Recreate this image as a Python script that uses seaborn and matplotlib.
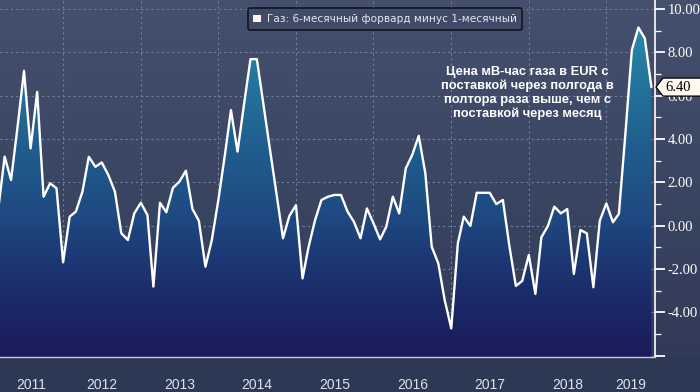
import numpy as np
import pandas as pd
import matplotlib
matplotlib.use("Agg")
import matplotlib.pyplot as plt
import matplotlib.dates as mdates
from matplotlib.colors import LinearSegmentedColormap
from matplotlib.patches import Patch, Rectangle, Polygon
from matplotlib.ticker import MultipleLocator, FuncFormatter, FixedLocator, NullFormatter
import seaborn as sns

# monthly data, Mar 2011 .. Aug 2019
months = pd.date_range("2011-03-01", "2019-08-01", freq="MS")
spread = [
    0.70, 3.19, 2.11, 4.60, 7.15, 3.57, 6.18, 1.34, 1.96, 1.73,          # 2011
    -1.69, 0.42, 0.65, 1.57, 3.18, 2.72, 2.92, 2.34, 1.57, -0.35, -0.66, 0.57,  # 2012
    1.06, 0.49, -2.81, 1.06, 0.62, 1.75, 2.03, 2.54, 0.77, 0.23, -1.89, -0.66,  # 2013
    1.20, 3.30, 5.34, 3.42, 5.56, 7.69, 7.69, 5.60, 3.50, 1.50, -0.58, 0.45,    # 2014
    0.95, -2.43, -1.00, 0.26, 1.19, 1.34, 1.42, 1.42, 0.65, 0.18, -0.58, 0.80,  # 2015
    0.11, -0.63, -0.05, 1.34, 0.57, 2.65, 3.26, 4.15, 2.42, -0.97, -1.74, -3.43,  # 2016
    -4.74, -0.81, 0.42, -0.01, 1.52, 1.52, 1.52, 1.00, 1.19, -0.90, -2.78, -2.55,  # 2017
    -1.35, -3.15, -0.54, -0.01, 0.88, 0.57, 0.77, -2.23, -0.20, -0.35, -2.84, 0.23,  # 2018
    1.03, 0.16, 0.55, 4.30, 8.11, 9.15, 8.65, 6.40,                          # 2019
]
years = list(range(2011, 2020))
y_ticks = [-6, -4, -2, 0, 2, 4, 6, 8, 10]
legend_label = "Газ: 6-месячный форвард минус 1-месячный"
note = ("Цена мВ-час газа в EUR с\nпоставкой через полгода в\n"
        "полтора раза выше, чем с\nпоставкой через месяц")

df = pd.DataFrame({"date": months, "value": spread})

sns.set_theme(style="dark")
plt.rcParams["font.family"] = ["DejaVu Sans"]

W, H = 700, 392
fig = plt.figure(figsize=(7, 3.92), dpi=100)
fig.patch.set_facecolor("#3a4561")

# background gradient + bottom year bar
bg = fig.add_axes([0, 0, 1, 1], zorder=-5)
bg_cmap = LinearSegmentedColormap.from_list("bg", ["#2f3957", "#3a4562", "#44506d"])
bg.imshow(np.linspace(0, 1, 256).reshape(-1, 1), cmap=bg_cmap, origin="lower",
          aspect="auto", extent=[0, 1, 0, 1])
bg.add_patch(Rectangle((0, 0), 1, 35 / H, color="#2d3855", transform=bg.transAxes))
bg.set_xlim(0, 1)
bg.set_ylim(0, 1)
bg.axis("off")

ax = fig.add_axes([0, 1 - 357 / H, 655 / W, 357 / H])
ax.set_facecolor("none")

x0 = pd.Timestamp("2011-03-10")
x1 = pd.Timestamp("2019-08-18")
ylo, yhi = -6.06, 10.42

# gradient area below the line
xn = mdates.date2num(df["date"])
poly = ax.fill_between(xn, df["value"], ylo, facecolor="none", edgecolor="none")
fill_cmap = LinearSegmentedColormap.from_list(
    "fill", ["#1a1b5a", "#1c2e6c", "#1e4a82", "#205f8f", "#24789f", "#2a92b2"])
img = ax.imshow(np.linspace(0, 1, 256).reshape(-1, 1), cmap=fill_cmap, origin="lower",
                aspect="auto", extent=[xn[0], xn[-1], ylo, yhi], zorder=1)
img.set_clip_path(poly.get_paths()[0], transform=ax.transData)

sns.lineplot(data=df, x="date", y="value", ax=ax, color="white", lw=1.7,
             legend=False, zorder=3)

ax.set_xlim(x0, x1)
ax.set_ylim(ylo, yhi)
ax.set_xlabel("")
ax.set_ylabel("")

# grid
for v in y_ticks:
    ax.axhline(v, color="#7484a4", lw=0.75, ls=(0, (2, 3)), zorder=0.5)
for yr in years[1:]:
    ax.axvline(pd.Timestamp(f"{yr}-01-01"), color="#7484a4", lw=0.75, ls=(0, (2, 3)), zorder=0.5)

# y axis on the right
ax.yaxis.tick_right()
ax.yaxis.set_major_locator(FixedLocator(y_ticks))
ax.yaxis.set_minor_locator(MultipleLocator(1))
ax.yaxis.set_major_formatter(FuncFormatter(lambda v, p: "" if v < -5 else f"{v:.2f}"))
ax.tick_params(axis="y", which="major", length=7, width=1.3, color="white", pad=2,
               labelcolor="white", labelsize=10.5, right=True, left=False)
ax.tick_params(axis="y", which="minor", length=4, width=0.9, color="white", right=True, left=False)
for t in ax.get_yticklabels():
    t.set_family("Liberation Serif")

# x axis: year separators + centred year labels
ax.xaxis.set_major_locator(FixedLocator(
    [mdates.date2num(pd.Timestamp(f"{yr}-01-01")) for yr in years[1:]]))
ax.xaxis.set_major_formatter(NullFormatter())
centres = []
for yr in years:
    a = max(pd.Timestamp(f"{yr}-01-01"), x0)
    b = min(pd.Timestamp(f"{yr + 1}-01-01"), x1)
    centres.append(mdates.date2num(a + (b - a) / 2))
ax.set_xticks(centres, [str(y) for y in years], minor=True)
ax.tick_params(axis="x", which="major", length=27, width=1, color="#c9cdd8", direction="out")
ax.tick_params(axis="x", which="minor", length=0, pad=15, labelsize=10, labelcolor="#dfe2ea")
for t in ax.get_xticklabels(minor=True):
    t.set_family("Liberation Sans")

for s in ["top", "left"]:
    ax.spines[s].set_visible(False)
ax.spines["right"].set_color("white")
ax.spines["right"].set_linewidth(1.2)
ax.spines["bottom"].set_color("#c9cdd8")
ax.spines["bottom"].set_linewidth(1)

# legend
leg = fig.legend(handles=[Patch(facecolor="#fdf3ef", edgecolor="none")], labels=[legend_label],
                 loc="upper center", bbox_to_anchor=(385 / W, 1 - 3 / H), fontsize=7.6,
                 frameon=True, facecolor="#3f4b67", edgecolor="#11141f", framealpha=1,
                 handlelength=0.75, handleheight=0.75, handletextpad=0.5, borderpad=0.55,
                 fancybox=True)
leg.get_frame().set_linewidth(1.2)
for t in leg.get_texts():
    t.set_color("#e6e8ee")

# annotation
fig.text(527 / W, 1 - 93 / H, note, ha="center", va="center", multialignment="center",
         color="white", fontsize=9.3, fontweight="bold", family="Liberation Sans",
         linespacing=1.15)

# last value callout
fig.canvas.draw()
last_y = ax.transData.transform((xn[-1], spread[-1]))[1]
tip_x = ax.transAxes.transform((1, 0))[0] + 1
pts = [(tip_x, last_y), (tip_x + 7, last_y + 9), (W + 2, last_y + 9),
       (W + 2, last_y - 9), (tip_x + 7, last_y - 9)]
fig.patches.append(Polygon(pts, closed=True, facecolor="#fff8ee", edgecolor="black",
                           lw=0.9, transform=None, figure=fig, zorder=10))
fig.text((tip_x + 9) / W, last_y / H, f"{spread[-1]:.2f}", ha="left", va="center",
         color="black", fontsize=10.5, family="Liberation Serif", zorder=11)

fig.savefig("out.png", dpi=100, facecolor=fig.get_facecolor())
